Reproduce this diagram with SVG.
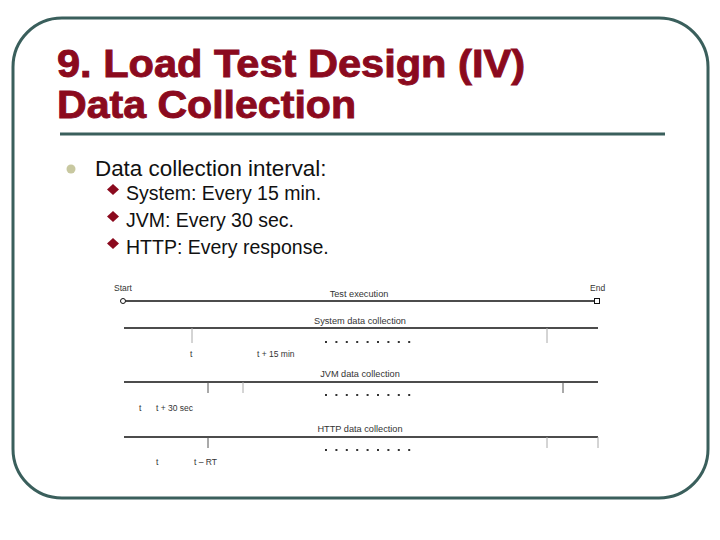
<svg xmlns="http://www.w3.org/2000/svg" width="720" height="540" viewBox="0 0 720 540">
<style>
.title{font-family:"Liberation Sans",Arial,sans-serif;font-weight:bold;font-size:38px;fill:#8b0a1e;stroke:#8b0a1e;stroke-width:0.9}
.b1{font-family:"Liberation Sans",Arial,sans-serif;font-size:22.4px;fill:#111}
.b2{font-family:"Liberation Sans",Arial,sans-serif;font-size:19.5px;fill:#111}
.lbl{font-family:"Liberation Sans",Arial,sans-serif;font-size:8.5px;fill:#333}
.cap{font-family:"Liberation Sans",Arial,sans-serif;font-size:9.2px;fill:#333}
.axis{stroke:#111;stroke-width:1.3;fill:none}
.tick{stroke:#555;stroke-width:1}
.tickl{stroke:#aaa;stroke-width:1}
.dot{fill:#333}
</style>
<defs>
<g id="dots">
<rect x="0" y="0" width="2" height="2" class="dot"/>
<rect x="10.4" y="0" width="2" height="2" class="dot"/>
<rect x="20.8" y="0" width="2" height="2" class="dot"/>
<rect x="31.2" y="0" width="2" height="2" class="dot"/>
<rect x="41.6" y="0" width="2" height="2" class="dot"/>
<rect x="52" y="0" width="2" height="2" class="dot"/>
<rect x="62.4" y="0" width="2" height="2" class="dot"/>
<rect x="72.8" y="0" width="2" height="2" class="dot"/>
<rect x="83.2" y="0" width="2" height="2" class="dot"/>
</g>
</defs>
<rect width="720" height="540" fill="#fff"/>
<rect id="frame" x="13" y="18" width="695" height="480" rx="49" ry="49" fill="none" stroke="#3a5f5c" stroke-width="3"/>
<g id="title">
<text class="title" x="57" y="77" textLength="468" lengthAdjust="spacingAndGlyphs">9. Load Test Design (IV)</text>
<text class="title" x="57" y="118" textLength="299" lengthAdjust="spacingAndGlyphs">Data Collection</text>
<line x1="60" y1="134" x2="665" y2="134" stroke="#3a5f5c" stroke-width="3"/>
</g>
<g id="bullets">
<circle cx="71" cy="169" r="4.5" fill="#c8c8a0"/>
<text class="b1" x="95" y="176">Data collection interval:</text>
<polygon points="113,184 119,189.5 113,195 107,189.5" fill="#8b0a1e"/>
<text class="b2" x="126" y="200">System: Every 15 min.</text>
<polygon points="113,211 119,216.5 113,222 107,216.5" fill="#8b0a1e"/>
<text class="b2" x="126" y="227">JVM: Every 30 sec.</text>
<polygon points="113,238 119,243.5 113,249 107,243.5" fill="#8b0a1e"/>
<text class="b2" x="126" y="254">HTTP: Every response.</text>
</g>
<g id="connectors">
<line class="axis" x1="125.5" y1="301" x2="594.5" y2="301"/>
<line class="axis" x1="124" y1="328" x2="598" y2="328"/>
<line class="axis" x1="124" y1="382" x2="598" y2="382"/>
<line class="axis" x1="124" y1="437" x2="598" y2="437"/>
<line class="tickl" x1="192" y1="328" x2="192" y2="343"/>
<line class="tickl" x1="547" y1="328" x2="547" y2="343"/>
<line class="tick" x1="208" y1="382" x2="208" y2="393"/>
<line class="tickl" x1="243" y1="382" x2="243" y2="393"/>
<line class="tick" x1="563" y1="382" x2="563" y2="393"/>
<line class="tick" x1="208" y1="437" x2="208" y2="448"/>
<line class="tickl" x1="547" y1="437" x2="547" y2="448"/>
<line class="tickl" x1="598" y1="437" x2="598" y2="448"/>
</g>
<g id="test-execution">
<circle cx="123" cy="301" r="2.5" fill="#fff" stroke="#111" stroke-width="1"/>
<rect x="594.5" y="298.5" width="5" height="5" fill="#fff" stroke="#111" stroke-width="1"/>
<text class="lbl" x="114" y="291">Start</text>
<text class="lbl" x="590" y="291">End</text>
<text class="cap" x="359" y="297" text-anchor="middle">Test execution</text>
</g>
<g id="system-collection">
<text class="cap" x="360" y="324" text-anchor="middle">System data collection</text>
<use href="#dots" x="325" y="341"/>
<text class="lbl" x="190" y="357">t</text>
<text class="lbl" x="257" y="357">t + 15 min</text>
</g>
<g id="jvm-collection">
<text class="cap" x="360" y="377" text-anchor="middle">JVM data collection</text>
<use href="#dots" x="325" y="394"/>
<text class="lbl" x="139" y="411">t</text>
<text class="lbl" x="156" y="411">t + 30 sec</text>
</g>
<g id="http-collection">
<text class="cap" x="360" y="432" text-anchor="middle">HTTP data collection</text>
<use href="#dots" x="325" y="449"/>
<text class="lbl" x="156" y="465">t</text>
<text class="lbl" x="194" y="465">t – RT</text>
</g>
</svg>
